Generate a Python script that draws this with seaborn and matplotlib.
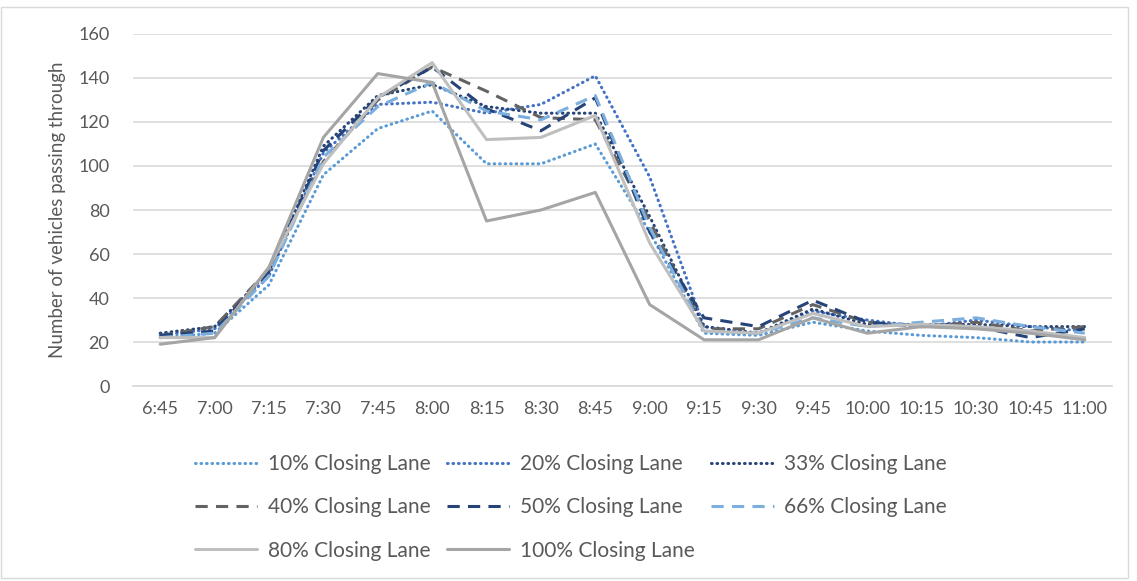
import matplotlib
matplotlib.use("Agg")
import matplotlib.pyplot as plt
import pandas as pd
import seaborn as sns
from matplotlib.patches import Rectangle

times = ["6:45", "7:00", "7:15", "7:30", "7:45", "8:00", "8:15", "8:30", "8:45",
         "9:00", "9:15", "9:30", "9:45", "10:00", "10:15", "10:30", "10:45", "11:00"]

lane_10 = [22, 24, 46, 96, 117, 125, 101, 101, 110, 70, 24, 23, 29, 25, 23, 22, 20, 20]
lane_20 = [23, 26, 50, 106, 128, 129, 124, 128, 141, 95, 27, 24, 34, 30, 27, 30, 27, 25]
lane_33 = [24, 27, 52, 109, 132, 137, 127, 124, 124, 77, 27, 24, 35, 28, 28, 28, 27, 27]
lane_40 = [23, 27, 53, 102, 130, 145, 134, 122, 121, 75, 26, 26, 37, 29, 27, 29, 25, 27]
lane_50 = [23, 25, 52, 107, 131, 145, 126, 116, 131, 70, 31, 27, 39, 29, 27, 27, 22, 26]
lane_66 = [22, 24, 50, 104, 127, 138, 125, 121, 132, 72, 25, 24, 31, 27, 29, 31, 27, 24]
lane_80 = [22, 22, 54, 101, 131, 147, 112, 113, 123, 65, 25, 24, 33, 27, 28, 27, 25, 22]
lane_100 = [19, 22, 54, 113, 142, 138, 75, 80, 88, 37, 21, 21, 31, 24, 27, 26, 24, 21]

series = {
    "10% Closing Lane": lane_10,
    "20% Closing Lane": lane_20,
    "33% Closing Lane": lane_33,
    "40% Closing Lane": lane_40,
    "50% Closing Lane": lane_50,
    "66% Closing Lane": lane_66,
    "80% Closing Lane": lane_80,
    "100% Closing Lane": lane_100,
}

dot = (0, (0.2, 1.6))
dash = (0, (4, 2.7))
styles = {
    "10% Closing Lane": ("#5B9BD5", dot),
    "20% Closing Lane": ("#4472C4", dot),
    "33% Closing Lane": ("#264478", dot),
    "40% Closing Lane": ("#636363", dash),
    "50% Closing Lane": ("#264478", dash),
    "66% Closing Lane": ("#7CAFDD", dash),
    "80% Closing Lane": ("#BFBFBF", "-"),
    "100% Closing Lane": ("#A5A5A5", "-"),
}

sns.set_style("white")
plt.rcParams["font.family"] = ["Lato", "DejaVu Sans"]

fig = plt.figure(figsize=(11.37, 5.81), dpi=100)
ax = fig.add_axes([0.117, 0.3356, 0.861, 0.6059])

x = list(range(len(times)))
handles = {}
for name, vals in series.items():
    color, ls = styles[name]
    df = pd.DataFrame({"x": x, "y": vals})
    sns.lineplot(data=df, x="x", y="y", ax=ax, color=color, linewidth=2.2,
                 label=name, legend=False)
    line = ax.lines[-1]
    line.set_linestyle(ls)
    line.set_dash_capstyle("round" if ls == dot else "butt")
    handles[name] = line

ax.set_xlim(-0.5, len(times) - 0.5)
ax.set_ylim(0, 160)
ax.set_yticks(range(0, 161, 20))
ax.set_xticks(x)
ax.set_xticklabels(times)
ax.grid(axis="y", color="#D9D9D9", linewidth=1.2)
ax.set_axisbelow(True)
for s in ["top", "right", "left"]:
    ax.spines[s].set_visible(False)
ax.spines["bottom"].set_color("#D9D9D9")
ax.spines["bottom"].set_linewidth(1.2)
ax.tick_params(axis="both", length=0, labelsize=13, colors="#595959")
ax.tick_params(axis="y", pad=17)
ax.tick_params(axis="x", pad=11)
ax.set_xlabel("")
ax.set_ylabel("Number of vehicles passing through", fontsize=13.5, color="#595959", labelpad=9)

order = ["10% Closing Lane", "40% Closing Lane", "80% Closing Lane",
         "20% Closing Lane", "50% Closing Lane", "100% Closing Lane",
         "33% Closing Lane", "66% Closing Lane"]
fig.legend([handles[n] for n in order], order, loc="center", bbox_to_anchor=(0.502, 0.127),
           ncol=3, frameon=False, fontsize=15, labelcolor="#595959",
           handlelength=3.0, handletextpad=0.5, columnspacing=0.8, labelspacing=1.12)

fig.patches.append(Rectangle((1 / 1137, 3 / 581), 1127 / 1137, 571 / 581,
                             transform=fig.transFigure, fill=False,
                             edgecolor="#D9D9D9", linewidth=1))

fig.savefig("out.png", dpi=100)
